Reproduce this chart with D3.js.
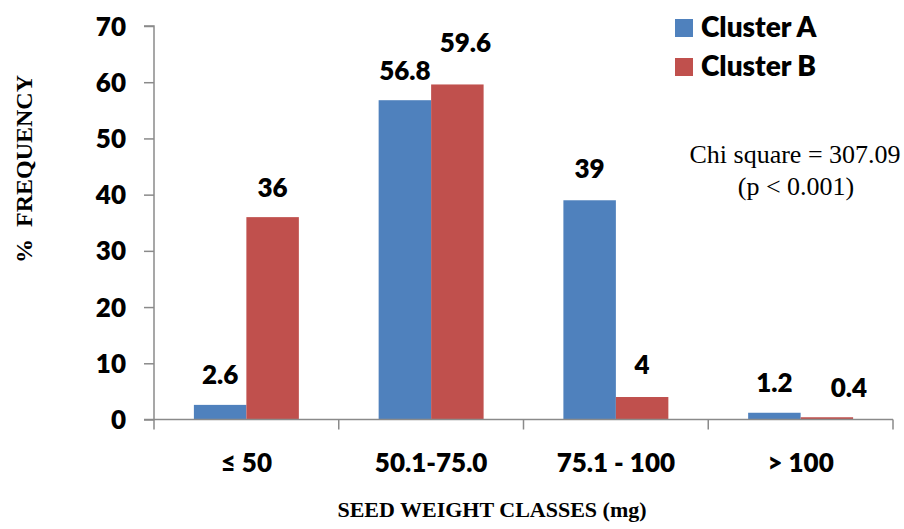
<!DOCTYPE html>
<html>
<head>
<meta charset="utf-8">
<script src="https://cdn.jsdelivr.net/npm/d3@7"></script>
<style>
  html, body { margin: 0; padding: 0; background: #fff; }
  svg { display: block; }
</style>
</head>
<body>
<svg id="chart" width="904" height="529"></svg>
<script>
// Seed weight classes and the share of seeds (%) in each cluster
const categories = ["\u2264 50", "50.1-75.0", "75.1 - 100", "> 100"];
const seriesNames = ["Cluster A", "Cluster B"];
const clusterA = [2.6, 56.8, 39, 1.2];
const clusterB = [36, 59.6, 4, 0.4];
const yTicks = [0, 10, 20, 30, 40, 50, 60, 70];

const colors = { "Cluster A": "#4F81BD", "Cluster B": "#C0504D" };
// small hand placements for a few value labels: [dx, extra lift]
const labelNudgeA = [[0, 0], [0, 0], [0, 2], [0, 0]];
const labelNudgeB = [[0, 0], [8, 12], [0, 3], [22, 0]];

const svg = d3.select("#chart");
const plotLeft = 154, plotRight = 893, plotTop = 26, plotBottom = 419.5;

const x0 = d3.scaleBand().domain(categories).range([plotLeft, plotRight]).padding(0);
const x1 = d3.scaleBand().domain(seriesNames).range([0, x0.bandwidth()])
  .paddingInner(0).paddingOuter(0.76);
const y = d3.scaleLinear().domain([0, 70]).range([plotBottom, plotTop]);

const axisColor = "#8a8a8a";
const sansBold = "Lato, 'Open Sans', sans-serif";
const sansWeight = 800;

// bars
const rows = categories.map((c, i) => ({
  cat: c,
  vals: [
    { s: "Cluster A", v: clusterA[i], nudge: labelNudgeA[i] },
    { s: "Cluster B", v: clusterB[i], nudge: labelNudgeB[i] }
  ]
}));

const groups = svg.append("g").selectAll("g").data(rows).join("g")
  .attr("transform", d => `translate(${x0(d.cat)},0)`);

groups.selectAll("rect").data(d => d.vals).join("rect")
  .attr("x", d => x1(d.s))
  .attr("y", d => y(d.v))
  .attr("width", x1.bandwidth())
  .attr("height", d => y(0) - y(d.v))
  .attr("fill", d => colors[d.s]);

groups.selectAll("text").data(d => d.vals).join("text")
  .attr("x", d => x1(d.s) + x1.bandwidth() / 2 + d.nudge[0])
  .attr("y", d => y(d.v) - 20.5 - d.nudge[1])
  .attr("text-anchor", "middle")
  .attr("font-family", sansBold)
  .attr("font-weight", sansWeight)
  .attr("font-size", 26)
  .attr("fill", "#000")
  .text(d => d.v);

// y axis
const yAxis = svg.append("g")
  .attr("transform", `translate(${plotLeft},0)`)
  .call(d3.axisLeft(y).tickValues(yTicks).tickSize(10).tickPadding(18).tickFormat(d3.format("d")));
yAxis.select(".domain").attr("stroke", axisColor).attr("stroke-width", 1.5).attr("d", `M-10,${plotTop}H0V${plotBottom}H-10`);
yAxis.selectAll(".tick line").attr("stroke", axisColor).attr("stroke-width", 1.5);
yAxis.selectAll(".tick text")
  .attr("font-family", sansBold).attr("font-weight", sansWeight)
  .attr("font-size", 26).attr("fill", "#000").attr("dy", "0.35em");

// x axis baseline with ticks at the band edges
const xAxis = svg.append("g").attr("transform", `translate(0,${plotBottom})`);
xAxis.append("line").attr("x1", plotLeft).attr("x2", plotRight)
  .attr("stroke", axisColor).attr("stroke-width", 1.5);
const edges = categories.map(c => x0(c)).concat([plotRight]);
xAxis.selectAll("line.edge").data(edges).join("line").attr("class", "edge")
  .attr("x1", d => d).attr("x2", d => d).attr("y1", 0).attr("y2", 10)
  .attr("stroke", axisColor).attr("stroke-width", 1.5);
xAxis.selectAll("text").data(categories).join("text")
  .attr("x", d => x0(d) + x0.bandwidth() / 2)
  .attr("y", 52.5)
  .attr("text-anchor", "middle")
  .attr("font-family", sansBold).attr("font-weight", sansWeight)
  .attr("font-size", 26).attr("fill", "#000")
  .text(d => d);

// axis titles
svg.append("text")
  .attr("transform", "translate(32,169) rotate(-90)")
  .attr("text-anchor", "middle")
  .attr("font-family", "'Liberation Serif', 'Times New Roman', serif")
  .attr("font-weight", "bold").attr("font-size", 24)
  .attr("xml:space", "preserve")
  .text("%  FREQUENCY");

svg.append("text")
  .attr("x", 492).attr("y", 517)
  .attr("text-anchor", "middle")
  .attr("font-family", "'Liberation Serif', 'Times New Roman', serif")
  .attr("font-weight", "bold").attr("font-size", 22)
  .text("SEED WEIGHT CLASSES (mg)");

// legend
const legend = svg.append("g").selectAll("g").data(seriesNames).join("g")
  .attr("transform", (d, i) => `translate(675,${19 + i * 39})`);
legend.append("rect").attr("width", 18).attr("height", 18).attr("fill", d => colors[d]);
legend.append("text").attr("x", 26).attr("y", 18)
  .attr("font-family", sansBold).attr("font-weight", sansWeight)
  .attr("font-size", 28).attr("fill", "#000")
  .text(d => d);

// test statistic note
const note = svg.append("text")
  .attr("font-family", "'Liberation Serif', 'Times New Roman', serif")
  .attr("font-size", 26).attr("text-anchor", "middle").attr("fill", "#000");
note.append("tspan").attr("x", 795).attr("y", 163).text("Chi square = 307.09");
note.append("tspan").attr("x", 796).attr("y", 195).text("(p < 0.001)");
</script>
</body>
</html>
